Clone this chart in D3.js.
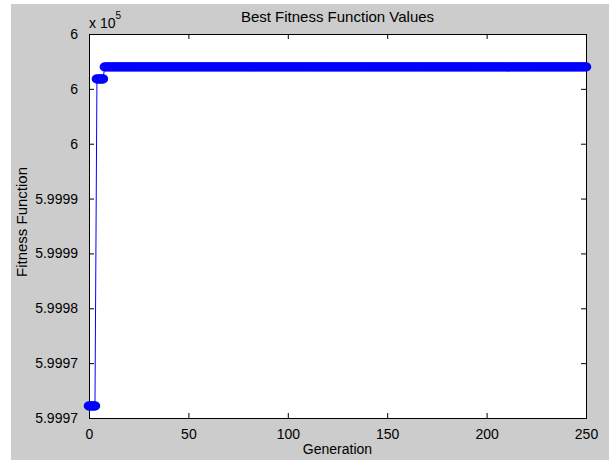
<!DOCTYPE html>
<html>
<head>
<meta charset="utf-8">
<script src="https://cdn.jsdelivr.net/npm/d3@7"></script>
<style>
  body { margin: 0; background: #fff; }
  text { font-family: "Liberation Sans", Arial, sans-serif; fill: #000; }
</style>
</head>
<body>
<div id="chart"></div>
<script>
var runStart = [0, 4, 8],
    runEnd = [3, 7, 250],
    runValue = [599966.1, 599995.9, 599997.0];

var xTicks = [0, 50, 100, 150, 200, 250];
var yTicks = [599965, 599970, 599975, 599980, 599985, 599990, 599995, 600000];
var yTickLabels = ["5.9997", "5.9997", "5.9998", "5.9999", "5.9999", "6", "6", "6"];

var data = [];
runStart.forEach(function (s, i) {
    for (var g = s; g <= runEnd[i]; g++) {
        data.push({gen: g, value: runValue[i]});
    }
});

var W = 609, H = 460,
    margin = {top: 34, right: 23, bottom: 42, left: 89},
    width = W - margin.left - margin.right,
    height = H - margin.top - margin.bottom;

var svg = d3.select("#chart").append("svg")
    .attr("width", W)
    .attr("height", H);

svg.append("rect")
    .attr("x", 11).attr("y", 4)
    .attr("width", W - 11).attr("height", H - 4)
    .attr("fill", "#cccccc");

var x = d3.scaleLinear().domain([0, 250]).range([0, width]),
    y = d3.scaleLinear().domain([599965, 600000]).range([height, 0]);

var g = svg.append("g")
    .attr("transform", "translate(" + margin.left + "," + margin.top + ")");

g.append("rect")
    .attr("width", width).attr("height", height)
    .attr("fill", "#fff");

// axes with inward ticks on all four sides (matlab box)
function styleAxis(sel) {
    sel.select(".domain").remove();
    sel.selectAll("line").attr("stroke", "#000");
    sel.selectAll("text").style("font-size", "14px").attr("fill", "#000");
}

g.append("g")
    .attr("transform", "translate(0," + height + ")")
    .call(d3.axisBottom(x).tickValues(xTicks).tickSize(-5).tickPadding(11).tickFormat(d3.format("d")))
    .call(styleAxis);
g.append("g")
    .call(d3.axisTop(x).tickValues(xTicks).tickSize(-5).tickFormat(""))
    .call(styleAxis);
g.append("g")
    .call(d3.axisLeft(y).tickValues(yTicks).tickSize(-5).tickPadding(11)
        .tickFormat(function (d, i) { return yTickLabels[i]; }))
    .call(styleAxis);
g.append("g")
    .attr("transform", "translate(" + width + ",0)")
    .call(d3.axisRight(y).tickValues(yTicks).tickSize(-5).tickFormat(""))
    .call(styleAxis);

g.append("rect")
    .attr("x", 0.5).attr("y", 0.5)
    .attr("width", width).attr("height", height)
    .attr("fill", "none").attr("stroke", "#000");

// line + circle markers
var line = d3.line()
    .x(function (d) { return x(d.gen); })
    .y(function (d) { return y(d.value); });

g.append("path")
    .datum(data)
    .attr("d", line)
    .attr("fill", "none")
    .attr("stroke", "#0000ff")
    .attr("stroke-width", 1);

g.append("g").selectAll("ellipse")
    .data(data)
    .enter().append("ellipse")
    .attr("cx", function (d) { return x(d.gen); })
    .attr("cy", function (d) { return y(d.value); })
    .attr("rx", 4.2)
    .attr("ry", 3.6)
    .attr("fill", "none")
    .attr("stroke", "#0000ff")
    .attr("stroke-width", 2.2);

// texts
svg.append("text")
    .attr("x", margin.left + width / 2).attr("y", 22)
    .attr("text-anchor", "middle")
    .style("font-size", "15px")
    .text("Best Fitness Function Values");

svg.append("text")
    .attr("x", margin.left + width / 2).attr("y", 454)
    .attr("text-anchor", "middle")
    .style("font-size", "14px")
    .text("Generation");

svg.append("text")
    .attr("transform", "translate(27," + 222 + ") rotate(-90)")
    .attr("text-anchor", "middle")
    .style("font-size", "15px")
    .text("Fitness Function");

var expo = svg.append("text")
    .attr("x", 89).attr("y", 28)
    .style("font-size", "14px");
expo.append("tspan").text("x 10");
expo.append("tspan").attr("dy", -9).style("font-size", "10px").text("5");
</script>
</body>
</html>
